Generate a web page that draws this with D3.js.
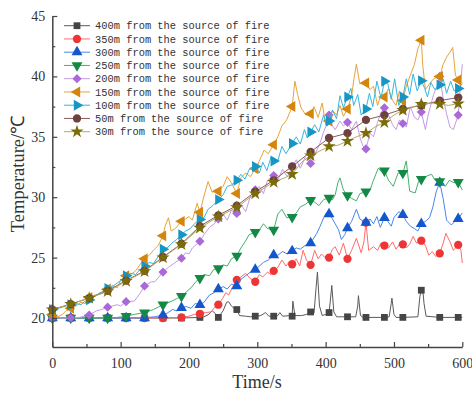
<!DOCTYPE html>
<html><head><meta charset="utf-8">
<script src="https://cdn.jsdelivr.net/npm/d3@7"></script>
<style>body{margin:0;background:#fff}svg{display:block}</style>
</head><body><svg id="c" width="472" height="393"></svg>
<script>
const seriesNames = ["400m from the source of fire","350m from the source of fire","300m from the source of fire","250m from the source of fire","200m from the source of fire","150m from the source of fire","100m from the source of fire","50m from the source of fire","30m from the source of fire"];
const markerTimes = [0,27,54,81,108,135,162,189,216,243,270,297,324,351,378,405,432,459,486,513,540,567,594];
const xTicks = [0,100,200,300,400,500,600];
const xMinor = [50,150,250,350,450,550];
const yTicks = [20,25,30,35,40,45];
const yMinor = [22.5,27.5,32.5,37.5,42.5];

// marker values (at markerTimes)
const m400 = [20.0,20.0,20.0,20.0,20.0,20.0,20.0,20.0,20.05,20.05,20.7,20.15,20.15,20.15,20.5,20.45,20.1,20.05,20.05,20.05,22.3,20.05,20.05];
const m350 = [20.0,20.0,20.0,20.0,20.0,20.0,20.0,20.05,20.35,21.1,23.15,23.0,23.9,24.45,24.4,25.0,24.9,27.9,26.0,26.1,26.4,25.35,26.05];
const m300 = [20.0,20.0,20.0,20.0,20.0,20.0,20.25,20.85,21.1,22.4,22.65,24.0,25.2,25.55,26.2,28.6,27.45,27.9,28.3,28.55,27.8,31.2,28.2];
const m250 = [20.0,20.0,20.0,20.0,20.15,20.45,21.1,21.8,23.3,24.1,25.15,27.1,27.3,28.35,29.75,29.95,30.15,30.45,32.2,32.0,31.5,31.3,31.25];
const m200 = [20.0,20.0,20.25,20.9,21.35,22.65,23.8,24.95,26.35,28.2,28.65,30.6,31.8,32.5,32.8,36.8,36.2,34.0,37.4,36.1,37.05,40.0,36.8];
const m150 = [20.3,20.8,21.7,22.4,23.5,24.9,26.8,28.0,28.75,30.5,30.3,32.35,34.35,37.5,36.9,36.3,37.3,39.45,38.3,38.0,43.0,40.0,39.7];
const m100 = [20.7,21.1,21.5,22.45,23.5,24.3,25.7,26.9,28.15,29.8,31.4,32.55,33.0,34.45,35.4,36.3,38.3,37.3,39.6,38.3,39.65,39.3,39.0];
const m50  = [20.7,21.15,21.65,22.25,23.1,23.9,25.05,26.15,27.6,28.5,29.3,30.45,31.4,32.55,33.75,34.9,35.3,36.4,36.8,37.3,37.6,38.0,38.25];
const m30  = [20.7,21.15,21.65,22.2,23.05,23.85,25.0,26.1,27.45,28.4,29.15,30.3,31.25,31.9,33.45,34.2,34.65,35.3,36.2,37.2,37.7,37.7,37.75];

// intermediate line readings [time, temperature]
const w400 = [[222,20.1],[229,20.3],[234,20.6],[238,20.4],[241,20.15],[250,20.6],[255,21.3],[258,21.35],[262,21.0],[266,20.8],[274,20.2],[283,20.15],[290,20.1],[305,20.2],[312,20.45],[317,20.15],[330,20.2],[333,20.45],[337,20.15],[349,20.2],[352,21.4],[355,20.2],[365,20.2],[372,20.3],[383,20.4],[386,22.5],[388,23.8],[391,21.0],[395,20.2],[400,20.3],[407,21.5],[409,22.7],[412,20.5],[416,20.1],[444,20.1],[447,21.0],[448,21.85],[451,20.2],[455,20.05],[493,20.1],[496,21.2],[497,21.65],[500,20.3],[503,20.05],[535,20.1],[538,21.8],[542,22.4],[544,21.2],[547,20.15],[600,20.05]];
const w350 = [[200,20.15],[208,20.3],[224,20.45],[232,20.5],[238,20.9],[249,21.6],[254,22.1],[258,21.9],[264,22.6],[276,23.4],[283,23.7],[289,23.3],[303,23.6],[308,23.4],[315,23.8],[320,23.6],[330,24.2],[336,24.8],[342,24.3],[346,24.6],[357,24.9],[362,24.3],[367,25.6],[372,24.8],[384,25.6],[389,24.9],[394,25.3],[399,25.0],[410,25.7],[414,25.9],[420,25.2],[426,26.2],[438,25.6],[445,26.6],[452,25.4],[456,26.3],[463,25.6],[470,25.9],[476,25.6],[481,26.2],[492,25.8],[498,26.3],[503,25.7],[508,26.1],[518,25.8],[523,26.1],[528,26.75],[533,26.2],[546,26.0],[551,25.2],[556,25.5],[561,25.1],[572,26.2],[576,27.0],[582,26.3],[587,25.6],[598,25.6],[600,24.55]];
const w300 = [[140,20.05],[150,20.1],[168,20.4],[176,20.7],[182,20.6],[196,20.95],[203,20.8],[209,21.2],[222,21.3],[230,21.9],[237,22.1],[250,22.6],[256,22.4],[262,22.8],[276,23.2],[283,23.5],[290,23.8],[303,24.3],[309,24.6],[316,24.8],[330,25.2],[337,25.5],[344,25.3],[357,25.8],[363,25.7],[370,26.0],[387,27.0],[392,27.6],[397,28.3],[401,28.7],[410,28.2],[419,27.3],[423,26.5],[428,26.9],[438,28.0],[445,29.0],[450,28.2],[465,28.2],[470,27.8],[475,28.4],[480,27.5],[491,28.0],[496,27.6],[500,28.3],[507,28.8],[518,28.0],[524,27.6],[530,27.4],[535,27.2],[546,28.0],[552,28.3],[557,29.2],[562,30.5],[572,29.9],[577,28.1],[584,27.7],[589,28.0],[600,28.7]];
const w250 = [[95,20.05],[120,20.3],[148,20.7],[155,20.9],[175,21.4],[182,21.6],[203,22.5],[210,23.0],[222,23.6],[230,23.5],[236,24.0],[250,24.4],[256,24.3],[262,24.9],[276,25.8],[282,26.3],[288,26.9],[303,27.3],[309,27.8],[315,27.4],[330,28.6],[336,29.0],[343,28.3],[357,28.7],[363,29.2],[370,29.4],[384,29.6],[390,29.3],[397,29.8],[410,29.8],[414,30.2],[418,31.2],[421,31.6],[426,30.6],[438,29.9],[445,29.7],[450,30.3],[465,30.6],[470,31.4],[477,32.4],[482,32.1],[492,31.4],[499,30.9],[506,32.0],[518,33.0],[523,30.5],[531,30.35],[536,31.3],[548,31.75],[555,31.9],[560,31.4],[575,30.9],[581,31.4],[588,31.2],[600,30.6]];
const w200 = [[40,20.05],[65,20.6],[72,20.7],[95,21.1],[100,21.0],[120,21.4],[128,22.0],[145,23.0],[150,23.0],[170,24.2],[175,24.4],[195,25.4],[200,25.3],[205,25.8],[222,26.9],[230,27.5],[237,27.8],[250,28.6],[256,28.1],[262,28.9],[276,29.4],[283,28.8],[290,30.1],[303,30.9],[309,30.3],[315,31.4],[330,31.4],[337,32.3],[344,31.7],[357,33.1],[363,32.4],[370,33.3],[384,33.5],[392,34.5],[397,35.4],[402,36.1],[410,35.9],[414,35.6],[421,36.3],[426,35.9],[438,35.6],[445,36.3],[450,35.0],[454,34.3],[465,35.3],[470,35.0],[476,36.2],[481,37.0],[492,36.8],[498,36.0],[503,35.6],[508,36.4],[518,35.8],[524,37.5],[530,36.6],[535,36.4],[546,35.6],[550,36.8],[558,38.5],[563,39.2],[572,38.2],[577,36.9],[582,35.8],[587,35.6],[597,39.0],[600,41.0]];
const w150 = [[8,20.1],[15,20.3],[20,20.6],[35,21.0],[42,21.3],[48,21.2],[62,21.9],[70,22.0],[75,22.2],[88,22.7],[95,22.5],[100,23.1],[115,23.6],[122,23.9],[128,24.4],[142,25.2],[148,25.6],[155,26.0],[165,27.6],[170,28.3],[174,27.2],[180,27.4],[195,28.2],[200,28.4],[205,28.1],[212,29.5],[222,30.1],[228,31.3],[234,30.4],[238,30.6],[250,30.9],[256,31.7],[262,31.2],[276,31.6],[283,32.0],[290,31.7],[303,33.0],[310,33.9],[316,33.6],[330,35.0],[336,35.9],[343,36.4],[355,39.6],[359,38.5],[364,37.4],[371,36.8],[383,37.5],[389,36.6],[395,37.8],[400,36.0],[410,37.2],[416,36.8],[421,37.6],[426,36.7],[438,38.4],[442,40.0],[445,41.0],[450,39.4],[465,38.9],[470,39.2],[476,37.6],[481,38.5],[492,39.0],[498,38.0],[503,37.6],[508,38.8],[518,39.2],[524,40.1],[530,41.0],[535,42.3],[542,41.0],[546,38.9],[552,39.4],[558,39.8],[562,39.9],[572,41.0],[577,41.6],[582,42.0],[586,42.4],[590,40.1],[600,39.5]];
const w100 = [[8,20.8],[15,20.9],[20,21.0],[35,21.2],[42,21.1],[48,21.4],[62,21.8],[70,22.1],[75,22.2],[88,22.6],[95,22.9],[100,23.1],[115,23.7],[122,23.6],[128,24.0],[142,24.6],[148,24.5],[155,25.1],[168,25.8],[175,26.2],[182,26.5],[195,27.2],[202,27.4],[208,27.8],[222,28.3],[228,29.0],[235,29.3],[250,30.2],[256,30.9],[262,31.0],[276,31.9],[282,31.5],[289,32.4],[303,32.0],[308,32.9],[314,32.2],[320,33.3],[330,33.0],[336,34.2],[342,33.6],[357,35.0],[363,34.4],[369,35.6],[373,34.9],[384,36.0],[390,35.4],[397,36.8],[402,35.9],[410,37.2],[416,36.5],[421,38.4],[426,37.4],[437,39.0],[441,37.6],[447,38.5],[452,36.8],[464,38.6],[469,37.5],[475,39.6],[481,38.2],[491,39.4],[496,38.1],[501,39.8],[507,37.6],[518,39.8],[523,38.5],[528,40.2],[534,38.8],[545,39.0],[549,38.3],[554,39.5],[560,38.9],[572,39.8],[577,38.6],[583,39.6],[588,38.8],[600,39.4]];
const w50  = [[600,38.3]];
const w30  = [[340,31.6],[365,32.9],[418,34.3],[445,35.0],[472,35.8],[500,36.8],[555,37.8],[580,37.6],[600,37.8]];

const markerSets = [m400,m350,m300,m250,m200,m150,m100,m50,m30];
const wiggleSets = [w400,w350,w300,w250,w200,w150,w100,w50,w30];
const lineColors = ["#5a5a5a","#ff6b6b","#4a86e8","#45b06e","#c49ae8","#e6a43c","#36b6dc","#8c5a5a","#b8a86a"];
const markColors = ["#454545","#ee3535","#1456cc","#128a45","#a96ad8","#d4860c","#1596c4","#6e4040","#7a6c08"];
const shapes = ["square","circle","triUp","triDown","diamond","triLeft","triRight","circle","star"];

const svg = d3.select("#c");
const x = d3.scaleLinear().domain([0,600]).range([52.3,462.3]);
const y = d3.scaleLinear().domain([17.6,45]).range([347,16]);

function symbolFor(s){
  if (s==="square") return {type:d3.symbolSquare,size:46,rot:0};
  if (s==="circle") return {type:d3.symbolCircle,size:54,rot:0};
  if (s==="triUp") return {type:d3.symbolTriangle,size:52,rot:0};
  if (s==="triDown") return {type:d3.symbolTriangle,size:52,rot:180};
  if (s==="diamond") return {type:d3.symbolSquare,size:42,rot:45};
  if (s==="triLeft") return {type:d3.symbolTriangle,size:52,rot:-90};
  if (s==="triRight") return {type:d3.symbolTriangle,size:52,rot:90};
  return {type:d3.symbolStar,size:54,rot:0};
}

const lineGen = d3.line().x(d=>x(d[0])).y(d=>y(d[1]));
const plot = svg.append("g");
seriesNames.forEach((name,i)=>{
  const pts = markerTimes.map((t,j)=>[t,markerSets[i][j]]).concat(wiggleSets[i]).sort((a,b)=>a[0]-b[0]);
  const g = plot.append("g");
  g.append("path").attr("d",lineGen(pts)).attr("fill","none").attr("stroke",lineColors[i]).attr("stroke-width",1);
  const sym = symbolFor(shapes[i]);
  g.selectAll("path.m").data(markerTimes.map((t,j)=>[t,markerSets[i][j]])).join("path").attr("class","m")
    .attr("d",d3.symbol(sym.type,sym.size)())
    .attr("transform",d=>`translate(${x(d[0])},${y(d[1])}) rotate(${sym.rot})`)
    .attr("fill",markColors[i]);
});

// axes
const axisColor = "#444";
const fontTick = "'Liberation Serif','Times New Roman',serif";
svg.append("g").attr("transform","translate(0,347)")
  .call(d3.axisBottom(x).tickValues(xTicks).tickFormat(d3.format("d")).tickSizeInner(-5).tickSizeOuter(0).tickPadding(11));
svg.append("g").attr("transform","translate(0,347)")
  .call(d3.axisBottom(x).tickValues(xMinor).tickFormat("").tickSizeInner(-3).tickSizeOuter(0)).select(".domain").remove();
svg.append("g").attr("transform","translate(52.3,0)")
  .call(d3.axisLeft(y).tickValues(yTicks).tickFormat(d3.format("d")).tickSizeInner(-5).tickSizeOuter(0).tickPadding(7));
svg.append("g").attr("transform","translate(52.3,0)")
  .call(d3.axisLeft(y).tickValues(yMinor).tickFormat("").tickSizeInner(-3).tickSizeOuter(0)).select(".domain").remove();
svg.selectAll(".domain").attr("stroke",axisColor).attr("stroke-width",1.5);
svg.selectAll(".tick line").attr("stroke",axisColor).attr("stroke-width",1.2);
svg.selectAll(".tick text").attr("fill","#333").style("font-family",fontTick).style("font-size","14px");

svg.append("text").attr("x",257).attr("y",388).attr("text-anchor","middle")
  .style("font-family",fontTick).style("font-size","18px").attr("fill","#333").text("Time/s");
svg.append("text").attr("transform","translate(24,174) rotate(-90)").attr("text-anchor","middle")
  .style("font-family",fontTick).style("font-size","18.5px").attr("fill","#333").text("Temperature/℃");

// legend
const leg = svg.append("g");
seriesNames.forEach((name,i)=>{
  const cy = 25.7 + i*13.25;
  leg.append("line").attr("x1",64).attr("x2",90).attr("y1",cy).attr("y2",cy).attr("stroke",lineColors[i]).attr("stroke-width",1);
  const sym = symbolFor(shapes[i]);
  leg.append("path").attr("d",d3.symbol(sym.type,sym.size)()).attr("transform",`translate(77,${cy}) rotate(${sym.rot})`).attr("fill",markColors[i]);
  leg.append("text").attr("x",95).attr("y",cy).attr("dy","0.35em")
    .style("font-family","'Liberation Mono','DejaVu Sans Mono',monospace").style("font-size","10.4px").attr("fill","#333").text(name);
});
</script></body></html>
